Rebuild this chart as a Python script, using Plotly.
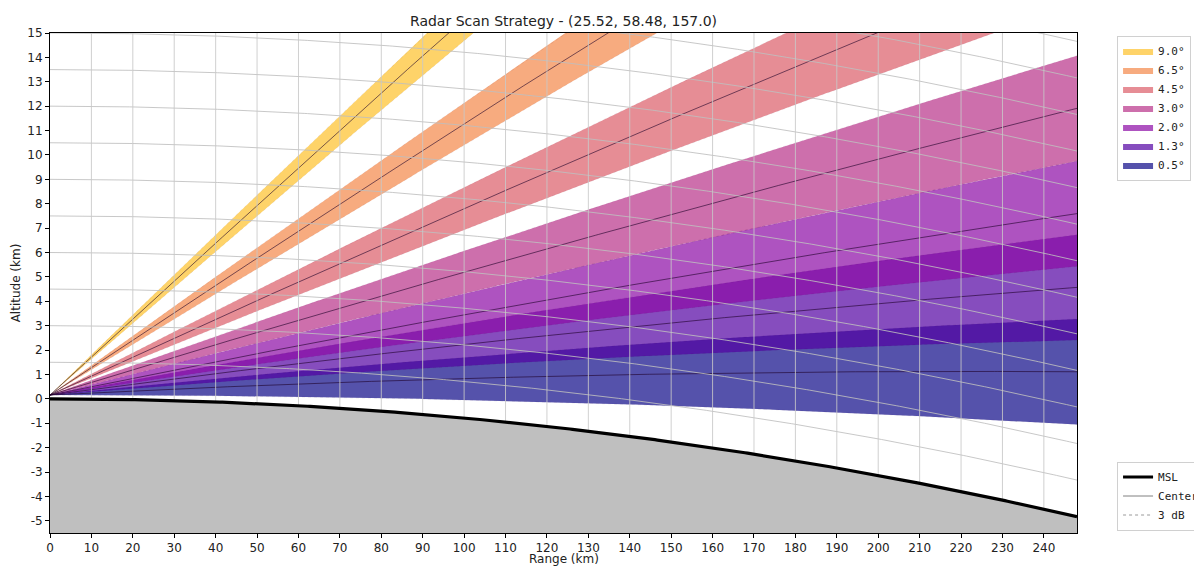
import numpy as np
import plotly.graph_objects as go

# ---- data ----
radar_lat = 25.52
radar_lon = 58.48
radar_alt_m = 157.0
elevations = [0.5, 1.3, 2.0, 3.0, 4.5, 6.5, 9.0]
beam_width_deg = 1.0
max_range_km = 248.0
beam_colors = ["#0d0887", "#5302a3", "#8b0aa5", "#b83289", "#db5c68", "#f48849", "#fec029"]
range_ticks = list(range(0, 250, 10))
alt_ticks = list(range(-5, 16))
alt_contours = [1.5 * i for i in range(1, 14)]

R_EARTH = 6371.0
K_EFF = 4.0 / 3.0

def rgba(hexc, a):
    h = hexc.lstrip("#")
    return f"rgba({int(h[0:2],16)},{int(h[2:4],16)},{int(h[4:6],16)},{a})"

r = np.linspace(0, max_range_km, 400)
h0 = radar_alt_m / 1000.0
msl = -(R_EARTH - np.sqrt(R_EARTH**2 - r**2))

def beam_y(el_deg):
    th = np.radians(el_deg)
    kr = K_EFF * R_EARTH
    h = np.sqrt(r**2 + kr**2 + 2 * r * kr * np.sin(th)) - kr + h0
    return h + msl

fig = go.Figure()

# beams (filled 3 dB bands)
for el, col in zip(elevations, beam_colors):
    lo = beam_y(el - beam_width_deg / 2)
    hi = beam_y(el + beam_width_deg / 2)
    xs = np.concatenate([r, r[::-1]])
    ys = np.concatenate([lo, hi[::-1]])
    fig.add_trace(go.Scatter(x=xs, y=ys, fill="toself", fillcolor=rgba(col, 0.7),
                             mode="lines", line=dict(width=0), name=f"{el:.1f}°",
                             legend="legend", hoverinfo="skip"))

# center lines and 3 dB edges
for i, el in enumerate(elevations):
    fig.add_trace(go.Scatter(x=r, y=beam_y(el), mode="lines",
                             line=dict(color="rgba(30,0,40,0.75)", width=0.8),
                             name="Center", legend="legend2", legendrank=2,
                             showlegend=False, hoverinfo="skip"))
    for s in (-1, 1):
        fig.add_trace(go.Scatter(x=r, y=beam_y(el + s * beam_width_deg / 2), mode="lines",
                                 line=dict(color="rgba(60,0,60,0.15)", width=0.5, dash="dot"),
                                 name="3 dB", legend="legend2", showlegend=False,
                                 hoverinfo="skip"))

# grid: altitude contours and vertical range lines (drawn above beams)
cx, cy = [], []
for a in alt_contours:
    cx += list(r) + [None]
    cy += list(a + msl * (R_EARTH + a) / R_EARTH) + [None]
fig.add_trace(go.Scatter(x=cx, y=cy, mode="lines",
                         line=dict(color="rgba(190,190,190,0.85)", width=1),
                         showlegend=False, hoverinfo="skip"))
vx, vy = [], []
for t in range_ticks[1:]:
    vx += [t, t, None]
    vy += [-(R_EARTH - np.sqrt(R_EARTH**2 - t**2)), 15, None]
fig.add_trace(go.Scatter(x=vx, y=vy, mode="lines",
                         line=dict(color="rgba(200,200,200,0.85)", width=1),
                         showlegend=False, hoverinfo="skip"))

# ground
fig.add_trace(go.Scatter(x=np.concatenate([r, r[::-1]]),
                         y=np.concatenate([msl, np.full_like(r, -5.5)]),
                         fill="toself", fillcolor="#bfbfbf", mode="lines",
                         line=dict(width=0), showlegend=False, hoverinfo="skip"))
fig.add_trace(go.Scatter(x=r, y=msl, mode="lines", line=dict(color="black", width=3.2),
                         name="MSL", legend="legend2", legendrank=1, hoverinfo="skip"))

# legend-only entries for Center / 3 dB
fig.add_trace(go.Scatter(x=[None], y=[None], mode="lines",
                         line=dict(color="gray", width=1), name="Center",
                         legend="legend2", legendrank=2))
fig.add_trace(go.Scatter(x=[None], y=[None], mode="lines",
                         line=dict(color="gray", width=0.8, dash="dot"), name="3 dB",
                         legend="legend2", legendrank=3))

font_main = "DejaVu Sans, sans-serif"
fig.update_layout(
    width=1194, height=567,
    margin=dict(l=50, r=117, t=33, b=34, autoexpand=False),
    paper_bgcolor="white", plot_bgcolor="white",
    font=dict(family=font_main, size=12, color="#222"),
    title=dict(text=f"Radar Scan Strategy - ({radar_lat}, {radar_lon}, {radar_alt_m})",
               x=0.5, xref="paper", xanchor="center", y=1 - 21 / 567, yref="container",
               yanchor="middle",
               font=dict(size=14, family=font_main, color="#222")),
    legend=dict(x=1.039, y=0.995, xanchor="left", yanchor="top", traceorder="reversed",
                bordercolor="#d0d0d0", borderwidth=1, bgcolor="white",
                font=dict(family="DejaVu Sans Mono, monospace", size=11),
                itemwidth=30, tracegroupgap=0),
    legend2=dict(x=1.039, y=0.005, xanchor="left", yanchor="bottom", traceorder="normal",
                 bordercolor="#d0d0d0", borderwidth=1, bgcolor="white",
                 font=dict(family="DejaVu Sans Mono, monospace", size=11),
                 itemwidth=30),
    showlegend=True,
    annotations=[dict(text="Range (km)", xref="paper", yref="paper", x=0.5, y=-0.052,
                      xanchor="center", yanchor="middle", showarrow=False,
                      font=dict(size=12, family=font_main, color="#222"))],
)
fig.update_xaxes(range=[0, max_range_km], tickvals=range_ticks,
                 ticktext=[str(t) for t in range_ticks], showgrid=False, automargin=False,
                 showline=True, linecolor="black", linewidth=1, mirror=True,
                 ticks="outside", ticklen=4, tickcolor="black", zeroline=False)
fig.update_yaxes(range=[-5.5, 15], tickvals=alt_ticks, automargin=False,
                 ticktext=[str(t) for t in alt_ticks], showgrid=False,
                 showline=True, linecolor="black", linewidth=1, mirror=True,
                 ticks="outside", ticklen=4, tickcolor="black", zeroline=False,
                 title=dict(text="Altitude (km)", standoff=4, font=dict(size=12)))

fig.write_html("out.html", config={"displayModeBar": False},
               post_script="document.body.style.margin='0px';document.body.style.overflow='hidden';")
